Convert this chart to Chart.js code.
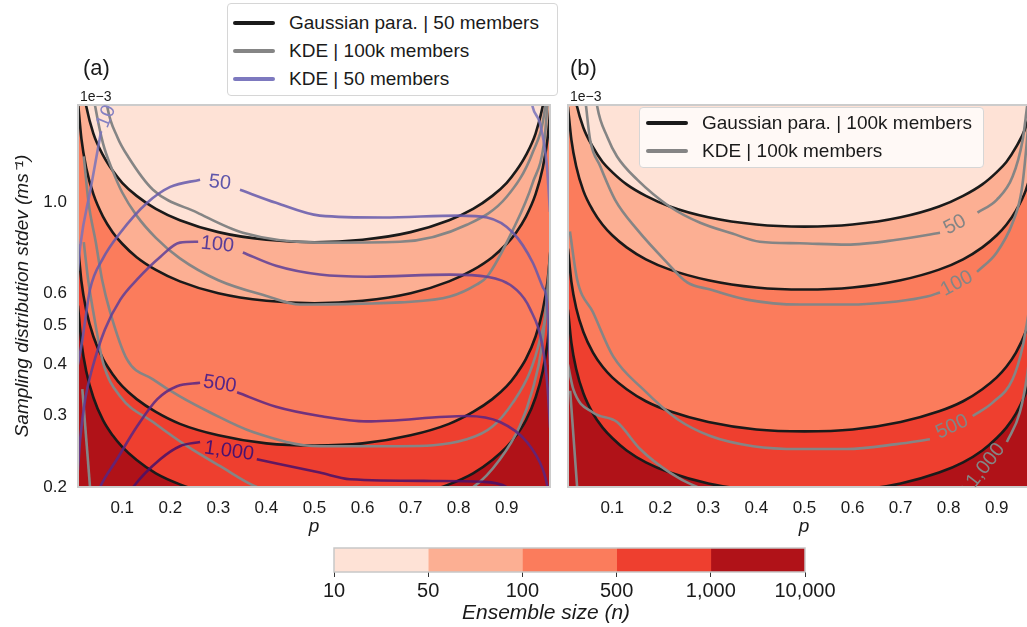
<!DOCTYPE html>
<html><head><meta charset="utf-8">
<title>Ensemble size contours</title>
<script src="https://cdn.jsdelivr.net/npm/chart.js@4.4.1/dist/chart.umd.min.js"></script>
<style>
html,body{margin:0;padding:0;background:#fff;}
body{position:relative;width:1027px;height:627px;overflow:hidden;font-family:"Liberation Sans",Arial,Helvetica,sans-serif;color:#1a1a1a;}
canvas{position:absolute;display:block;}
.txt{position:absolute;white-space:nowrap;line-height:1;}
.lg{position:absolute;background:#fff;border:1px solid #d6d6d6;border-radius:4px;box-sizing:border-box;z-index:5;}
.sw{position:absolute;width:42px;height:4px;border-radius:2px;}
.lb{position:absolute;font-size:19px;line-height:20px;white-space:nowrap;}
</style></head>
<body>
<canvas id="ca" width="560" height="545" style="left:0;top:0"></canvas>
<canvas id="cb" width="490" height="545" style="left:560px;top:0"></canvas>
<canvas id="cc" width="560" height="87" style="left:300px;top:540px"></canvas>

<div class="txt" style="left:83px;top:57px;font-size:22px;">(a)</div>
<div class="txt" style="left:570px;top:57px;font-size:22px;">(b)</div>
<div class="txt" style="left:80px;top:89px;font-size:14px;">1e−3</div>
<div class="txt" style="left:570px;top:89px;font-size:14px;">1e−3</div>
<div class="txt" style="left:462px;top:601px;font-size:21px;font-style:italic;">Ensemble size (n)</div>

<div class="lg" style="left:227px;top:3px;width:331px;height:93px;">
  <div class="sw" style="left:5px;top:17px;background:#1a1a1a"></div><div class="lb" style="left:61px;top:9px">Gaussian para. | 50 members</div>
  <div class="sw" style="left:5px;top:45px;background:#858585"></div><div class="lb" style="left:61px;top:37px">KDE | 100k members</div>
  <div class="sw" style="left:5px;top:73px;background:#7d79bf"></div><div class="lb" style="left:61px;top:65px">KDE | 50 members</div>
</div>
<div class="lg" style="left:639px;top:107px;width:345px;height:61px;background:rgba(255,255,255,0.78);">
  <div class="sw" style="left:6px;top:13px;background:#1a1a1a"></div><div class="lb" style="left:62px;top:5px">Gaussian para. | 100k members</div>
  <div class="sw" style="left:6px;top:41px;background:#858585"></div><div class="lb" style="left:62px;top:33px">KDE | 100k members</div>
</div>

<script>
// ---------- data (y in units of 1e-3 m/s) ----------
const X_TICKS = [0.1,0.2,0.3,0.4,0.5,0.6,0.7,0.8,0.9];
const Y_TICKS = [0.2,0.3,0.4,0.5,0.6,1.0];
const CB_TICKS = ['10','50','100','500','1,000','10,000'];
const CB_SEG = [1,1,1,1,1];

const P = [0.008,0.015,0.025,0.04,0.06,0.08,0.1,0.13,0.17,0.22,0.3,0.4,0.5,0.6,0.7,0.78,0.83,0.87,0.9,0.92,0.94,0.96,0.975,0.985,0.992];

// panel (a): Gaussian parametric, 50 members
const A_G50   = [2.50,2.03,1.73,1.48,1.31,1.20,1.12,1.04,0.966,0.906,0.847,0.811,0.800,0.811,0.847,0.906,0.966,1.04,1.12,1.20,1.31,1.48,1.73,2.03,2.50];
const A_G100  = [1.77,1.44,1.22,1.05,0.925,0.847,0.793,0.735,0.684,0.641,0.599,0.574,0.566,0.574,0.599,0.641,0.684,0.735,0.793,0.847,0.925,1.05,1.22,1.44,1.77];
const A_G500  = [0.790,0.643,0.545,0.469,0.413,0.379,0.354,0.329,0.306,0.286,0.268,0.256,0.253,0.256,0.268,0.286,0.306,0.329,0.354,0.379,0.413,0.469,0.545,0.643,0.790];
const A_G1000 = [0.559,0.455,0.386,0.332,0.292,0.268,0.251,0.233,0.216,0.203,0.190,0.181,0.179,0.181,0.190,0.203,0.216,0.233,0.251,0.268,0.292,0.332,0.386,0.455,0.559];

// panel (a): KDE 100k members
const A_K50_P   = [0.062,0.069,0.09,0.112,0.164,0.256,0.351,0.511,0.678,0.817,0.9,0.954,0.979,0.988];
const A_K50     = [2.0,1.72,1.45,1.30,1.077,0.946,0.844,0.798,0.802,0.883,1.035,1.33,1.69,2.2];
const A_K100_P  = [0.035,0.044,0.06,0.08,0.1,0.13,0.17,0.22,0.3,0.4,0.47,0.6,0.678,0.782,0.838,0.859,0.913,0.954,0.979,0.988];
const A_K100    = [2.0,1.72,1.40,1.20,1.06,0.93,0.82,0.73,0.645,0.59,0.562,0.565,0.569,0.588,0.63,0.658,0.859,1.12,1.45,2.0];
const A_K500_P  = [0.02,0.03,0.045,0.058,0.075,0.11,0.164,0.22,0.283,0.372,0.511,0.678,0.817,0.871,0.913,0.948,0.969,0.985,0.992];
const A_K500    = [1.3,1.0,0.8,0.648,0.538,0.412,0.368,0.334,0.305,0.273,0.252,0.252,0.262,0.282,0.323,0.383,0.461,0.578,0.8];
const A_K1000_P = [0.02,0.029,0.04,0.06,0.096,0.164,0.235,0.304,0.38,0.5,0.7,0.83,0.886,0.927,0.954,0.973,0.983,0.992];
const A_K1000   = [0.8,0.648,0.538,0.405,0.334,0.289,0.252,0.225,0.20,0.185,0.185,0.20,0.234,0.282,0.348,0.443,0.578,0.8];
const A_KEDGE_P = [0.017,0.033];
const A_KEDGE   = [0.348,0.2];

// panel (a): KDE 50 members (null = label gap)
const A_S10_P   = [0.008,0.0125,0.035,0.056,0.067,0.078,0.1,0.5,0.94,0.954,0.969,0.983,0.99];
const A_S10     = [0.68,0.78,1.094,1.50,null,1.80,2.3,3.0,2.2,1.72,1.57,1.25,0.95];
const A_S50_P   = [0.008,0.017,0.033,0.06,0.096,0.152,0.2,0.262,0.303,0.345,0.42,0.511,0.642,0.8,0.859,0.913,0.954,0.975,0.983,0.99];
const A_S50     = [0.40,0.46,0.612,0.73,0.844,1.0,1.094,1.14,null,1.077,1.0,0.93,0.92,0.93,0.92,0.844,0.713,0.62,0.578,0.40];
const A_S100_P  = [0.008,0.0125,0.023,0.037,0.064,0.096,0.131,0.179,0.22,0.258,0.30,0.351,0.42,0.511,0.609,0.782,0.859,0.921,0.948,0.975,0.985,0.99];
const A_S100    = [0.22,0.262,0.329,0.389,0.488,0.578,0.648,0.736,0.798,0.802,null,0.755,0.70,0.666,0.658,0.666,0.658,0.61,0.55,0.44,0.35,0.28];
const A_S500_P  = [0.04,0.054,0.089,0.131,0.173,0.214,0.262,0.30,0.339,0.42,0.511,0.609,0.817,0.886,0.942,0.975,0.985,0.992];
const A_S500    = [0.18,0.2,0.234,0.282,0.329,0.354,0.361,null,0.342,0.315,0.299,0.29,0.299,0.289,0.258,0.221,0.2,0.18];
const A_S1000_P = [0.10,0.123,0.179,0.22,0.262,0.32,0.38,0.511,0.574,0.746,0.85,0.9,0.93];
const A_S1000   = [0.18,0.2,0.234,0.252,0.258,null,0.234,0.217,0.209,0.207,0.206,0.2,0.185];

// panel (b): Gaussian parametric, 100k members
const B_G50   = [2.46,2.04,1.76,1.53,1.37,1.26,1.19,1.11,1.04,0.979,0.921,0.884,0.874,0.884,0.921,0.979,1.04,1.11,1.19,1.26,1.37,1.53,1.76,2.04,2.46];
const B_G100  = [1.72,1.43,1.23,1.07,0.957,0.883,0.832,0.777,0.726,0.685,0.645,0.619,0.612,0.619,0.645,0.685,0.726,0.777,0.832,0.883,0.957,1.07,1.23,1.43,1.72];
const B_G500  = [0.771,0.640,0.551,0.481,0.428,0.395,0.372,0.348,0.325,0.307,0.289,0.277,0.274,0.277,0.289,0.307,0.325,0.348,0.372,0.395,0.428,0.481,0.551,0.640,0.771];
const B_G1000 = [0.546,0.453,0.390,0.340,0.303,0.280,0.264,0.246,0.230,0.217,0.204,0.196,0.194,0.196,0.204,0.217,0.230,0.246,0.264,0.280,0.303,0.340,0.390,0.453,0.546];

// panel (b): KDE 100k members (null = label gap)
const B_K50_P   = [0.062,0.069,0.09,0.11,0.152,0.22,0.283,0.35,0.407,0.49,0.588,0.692,0.782,0.813,0.86,0.90,0.933,0.954,0.963,0.975];
const B_K50     = [2.0,1.72,1.45,1.30,1.14,0.978,0.893,0.84,0.802,0.795,0.789,0.811,0.844,null,0.946,1.017,1.16,1.43,1.72,2.2];
const B_K100_P  = [0.045,0.054,0.075,0.106,0.152,0.214,0.256,0.304,0.38,0.49,0.588,0.692,0.755,0.782,0.82,0.859,0.9,0.933,0.952,0.963,0.975];
const B_K100    = [1.75,1.43,1.23,1.017,0.859,0.713,0.637,0.612,0.578,0.562,0.562,0.572,0.588,0.602,null,0.676,0.755,0.893,1.077,1.43,2.2];
const B_K500_P  = [0.012,0.027,0.06,0.102,0.164,0.235,0.304,0.393,0.49,0.588,0.692,0.761,0.80,0.85,0.892,0.933,0.954,0.963,0.975];
const B_K500    = [0.85,0.648,0.538,0.419,0.348,0.294,0.267,0.252,0.248,0.248,0.255,0.262,null,0.299,0.323,0.368,0.443,0.508,0.62];
const B_K1000_P = [0.008,0.019,0.06,0.11,0.158,0.22,0.277,0.35,0.5,0.7,0.8,0.83,0.87,0.921,0.948,0.963,0.975];
const B_K1000   = [0.40,0.348,0.305,0.289,0.248,0.217,0.200,0.19,0.185,0.19,0.198,0.20,null,0.258,0.305,0.375,0.50];
const B_KEDGE_P = [0.0125,0.027];
const B_KEDGE   = [0.345,0.2];

// ---------- styling ----------
const BAND = ['#fee2d6','#fcaf93','#fb7c5c','#ee3f2f','#b01218'];
const BLACK = '#1a1a1a', GRAY = '#858585';
const PURPLE = ['rgba(120,114,186,0.85)','rgba(100,88,172,0.85)','rgba(92,62,152,0.85)','rgba(88,38,132,0.85)','rgba(72,16,106,0.85)'];
const PURPLE_TXT = ['#8581c2','#5f56aa','#5a3d98','#572587','#4b1270'];

const LABELS_A = [
  {t:'10',    p:0.067, v:1.63,  r:-68, c:PURPLE_TXT[0]},
  {t:'50',    p:0.303, v:1.12,  r:6,   c:PURPLE_TXT[1]},
  {t:'100',   p:0.298, v:0.789, r:6,   c:PURPLE_TXT[2]},
  {t:'500',   p:0.303, v:0.358, r:8,   c:PURPLE_TXT[3]},
  {t:'1,000', p:0.322, v:0.245, r:8,   c:PURPLE_TXT[4]}
];
const LABELS_B = [
  {t:'50',    p:0.813, v:0.883, r:-28, c:GRAY},
  {t:'100',   p:0.817, v:0.633, r:-28, c:GRAY},
  {t:'500',   p:0.807, v:0.281, r:-25, c:GRAY},
  {t:'1,000', p:0.877, v:0.226, r:-52, c:GRAY}
];

Chart.defaults.font.family = '"Liberation Sans", Arial, Helvetica, sans-serif';
Chart.defaults.color = '#1a1a1a';

function pts(px, py){ return px.map((x,i)=>({x:x, y:py[i]})); }
function ds(px, py, color, order, fillColor){
  return {data:pts(px,py), borderColor:color, borderWidth:2.6, pointRadius:0, pointHoverRadius:0,
    cubicInterpolationMode:'monotone', spanGaps:false, order:order,
    fill: fillColor ? 'start' : false, backgroundColor: fillColor || 'rgba(0,0,0,0)'};
}

const bgPlugin = {id:'bg', beforeDraw(chart, a, o){
  if(!o.color) return; const r=chart.chartArea, c=chart.ctx;
  c.save(); c.fillStyle=o.color; c.fillRect(r.left,r.top,r.right-r.left,r.bottom-r.top); c.restore(); }};
const framePlugin = {id:'frame', afterDatasetsDraw(chart, a, o){
  const r=chart.chartArea, c=chart.ctx; c.save(); c.strokeStyle=o.color||'#cccccc'; c.lineWidth=o.width||2;
  c.strokeRect(r.left,r.top,r.right-r.left,r.bottom-r.top); c.restore(); }};
const labelPlugin = {id:'clabels', afterDatasetsDraw(chart, a, o){
  const items=o.items||[]; if(!items.length) return;
  const xs=chart.scales.x, ys=chart.scales.y, c=chart.ctx, r=chart.chartArea;
  c.save(); c.beginPath(); c.rect(r.left,r.top,r.right-r.left,r.bottom-r.top); c.clip();
  items.forEach(it=>{ const x=xs.getPixelForValue(it.p), y=ys.getPixelForValue(it.v);
    c.save(); c.translate(x,y); c.rotate(it.r*Math.PI/180);
    c.font='20px "Liberation Sans", Arial, sans-serif'; c.fillStyle=it.c; c.textAlign='center'; c.textBaseline='middle';
    c.fillText(it.t,0,0); c.restore(); });
  c.restore(); }};

function xAxis(){ return {type:'linear', min:0.008, max:0.99,
  afterBuildTicks:s=>{ s.ticks = X_TICKS.map(v=>({value:v})); },
  afterFit:s=>{ s.height = 58; },
  grid:{display:false, drawTicks:false}, border:{display:false},
  ticks:{padding:11, font:{size:17}, color:'#1a1a1a', maxRotation:0, autoSkip:false, callback:v=>Number(v).toFixed(1)},
  title:{display:true, text:'p', font:{size:19, style:'italic'}, color:'#1a1a1a', padding:{top:0,bottom:7}} }; }
function yAxis(show){ return {type:'logarithmic', min:0.2, max:1.74, display:show,
  afterBuildTicks:s=>{ s.ticks = Y_TICKS.map(v=>({value:v})); },
  afterFit:s=>{ s.width = show ? 78 : 0; },
  grid:{display:false, drawTicks:false}, border:{display:false},
  ticks:{padding:11, font:{size:17}, color:'#1a1a1a', autoSkip:false, callback:v=>Number(v).toFixed(1)},
  title:{display:show, text:'Sampling distribution stdev (ms⁻¹)', font:{size:19, style:'italic'}, color:'#1a1a1a', padding:{top:11,bottom:0}} }; }

function panelOptions(padding, showY, labels){
  return {responsive:false, animation:false, events:[], layout:{padding:padding},
    plugins:{legend:{display:false}, tooltip:{enabled:false}, filler:{drawTime:'beforeDatasetsDraw'},
      bg:{color:BAND[0]}, frame:{color:'#cccccc', width:2}, clabels:{items:labels}},
    scales:{x:xAxis(), y:yAxis(showY)}};
}

// panel (a)
new Chart(document.getElementById('ca'), {type:'line',
  data:{datasets:[
    ds(A_S10_P, A_S10, PURPLE[0], 1), ds(A_S50_P, A_S50, PURPLE[1], 2), ds(A_S100_P, A_S100, PURPLE[2], 3),
    ds(A_S500_P, A_S500, PURPLE[3], 4), ds(A_S1000_P, A_S1000, PURPLE[4], 5),
    ds(A_K50_P, A_K50, GRAY, 6), ds(A_K100_P, A_K100, GRAY, 7), ds(A_K500_P, A_K500, GRAY, 8),
    ds(A_K1000_P, A_K1000, GRAY, 9), ds(A_KEDGE_P, A_KEDGE, GRAY, 10),
    ds(P, A_G1000, BLACK, 11, BAND[4]), ds(P, A_G500, BLACK, 12, BAND[3]),
    ds(P, A_G100, BLACK, 13, BAND[2]), ds(P, A_G50, BLACK, 14, BAND[1])
  ]},
  options: panelOptions({top:105,right:10,left:0,bottom:0}, true, LABELS_A),
  plugins:[bgPlugin, framePlugin, labelPlugin]});

// panel (b)
new Chart(document.getElementById('cb'), {type:'line',
  data:{datasets:[
    ds(B_K50_P, B_K50, GRAY, 6), ds(B_K100_P, B_K100, GRAY, 7), ds(B_K500_P, B_K500, GRAY, 8),
    ds(B_K1000_P, B_K1000, GRAY, 9), ds(B_KEDGE_P, B_KEDGE, GRAY, 10),
    ds(P, B_G1000, BLACK, 11, BAND[4]), ds(P, B_G500, BLACK, 12, BAND[3]),
    ds(P, B_G100, BLACK, 13, BAND[2]), ds(P, B_G50, BLACK, 14, BAND[1])
  ]},
  options: panelOptions({top:105,right:10,left:8,bottom:0}, false, LABELS_B),
  plugins:[bgPlugin, framePlugin, labelPlugin]});

// colour bar
new Chart(document.getElementById('cc'), {type:'bar',
  data:{labels:['n'], datasets: CB_SEG.map((v,i)=>({data:[v], backgroundColor:BAND[i], borderWidth:0, barPercentage:1, categoryPercentage:1}))},
  options:{indexAxis:'y', responsive:false, animation:false, events:[],
    layout:{padding:{left:34,right:55,top:8,bottom:0}},
    plugins:{legend:{display:false}, tooltip:{enabled:false}, frame:{color:'#c8c8c8', width:1.5}},
    scales:{
      x:{type:'linear', stacked:true, min:0, max:5,
        afterBuildTicks:s=>{ s.ticks = CB_TICKS.map((t,i)=>({value:i})); },
        afterFit:s=>{ s.height = 55; },
        grid:{display:true, drawOnChartArea:false, drawTicks:true, tickLength:5, tickColor:'#333', tickWidth:1},
        border:{display:false},
        ticks:{padding:2, font:{size:20}, color:'#1a1a1a', maxRotation:0, autoSkip:false, callback:(v,i)=>CB_TICKS[i]}},
      y:{stacked:true, display:false}
    }},
  plugins:[framePlugin]});
</script>
</body></html>
